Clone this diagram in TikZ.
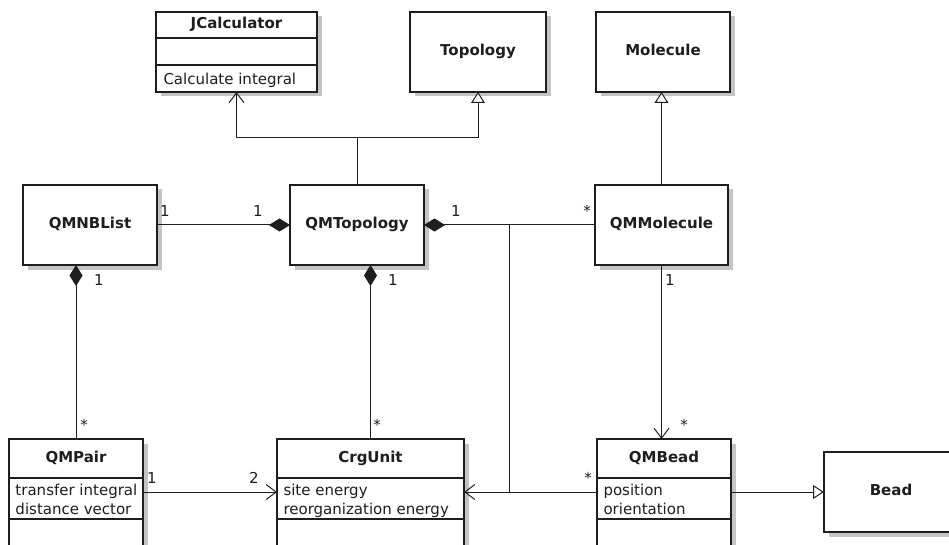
\documentclass[tikz,border=0pt]{standalone}
\usepackage{fontspec}
\setmainfont{DejaVu Sans}
\usetikzlibrary{arrows.meta,shadows}
\definecolor{ink}{HTML}{1E1E1E}
\definecolor{shade}{HTML}{C4C4C4}
\begin{document}
\begin{tikzpicture}[x=1pt,y=-1pt,
  line width=1pt, draw=ink,
  cls/.style={draw=ink, line width=1.2pt, fill=white, anchor=north west,
    inner sep=0pt, outer sep=0pt,
    general shadow={fill=shade, shadow xshift=4.5pt, shadow yshift=-4.5pt},
    font=\fontsize{15}{18}\selectfont\bfseries, text=ink,
    text height=0.73em, text depth=0pt},
  cname/.style={font=\fontsize{15}{18}\selectfont\bfseries, text=ink,
    inner sep=0pt, text height=0.73em, text depth=0pt},
  member/.style={font=\fontsize{15}{18}\selectfont, text=ink,
    inner sep=0pt, anchor=base west},
  mult/.style={font=\fontsize{15}{18}\selectfont, text=ink,
    inner sep=0pt, anchor=base},
  sep/.style={draw=ink, line width=1.2pt},
  nav/.style={draw=ink, -{Straight Barb[length=10pt,width=15pt,line width=1pt]}},
  gen/.style={draw=ink, -{Triangle[open,length=11pt,width=14pt,fill=white,line width=1pt]}},
  comp/.style={draw=ink, {Diamond[length=21pt,width=13pt]}-},
]
\useasboundingbox (0,0) rectangle (949,545);
\clip (0,0) rectangle (949,545);
\fill[white] (0,0) rectangle (949,545);

% ---- class boxes ----
\node[cls, minimum width=161pt, minimum height=80pt] (jcalc) at (156,12) {};
\node[cls, minimum width=136pt, minimum height=80pt] (topo)  at (410,12) {Topology};
\node[cls, minimum width=134pt, minimum height=80pt] (mol)   at (596,12) {Molecule};
\node[cls, minimum width=134pt, minimum height=80pt] (nbl)   at (23,185) {QMNBList};
\node[cls, minimum width=134pt, minimum height=80pt] (qmtop) at (290,185) {QMTopology};
\node[cls, minimum width=133pt, minimum height=80pt] (qmmol) at (595,185) {QMMolecule};
\node[cls, minimum width=134pt, minimum height=121pt] (qmpair) at (9,439) {};
\node[cls, minimum width=187pt, minimum height=121pt] (crg)    at (277,439) {};
\node[cls, minimum width=134pt, minimum height=121pt] (qmbead) at (597,439) {};
\node[cls, minimum width=134pt, minimum height=80pt] (bead)  at (824,452) {Bead};

% ---- compartments ----
\draw[sep] (jcalc.west |- 0,38) -- (jcalc.east |- 0,38);
\draw[sep] (jcalc.west |- 0,65) -- (jcalc.east |- 0,65);
\node[cname] (jcalc-name) at (236.5,25) {JCalculator};
\node[member] (jcalc-op) at (163,85) {Calculate integral};

\foreach \b in {qmpair,crg,qmbead}{
  \draw[sep] (\b.west |- 0,478) -- (\b.east |- 0,478);
  \draw[sep] (\b.west |- 0,519) -- (\b.east |- 0,519);
}
\node[cname] (qmpair-name) at (76,459) {QMPair};
\node[member] (qmpair-a1) at (15,495) {transfer integral};
\node[member] (qmpair-a2) at (15,514) {distance vector};
\node[cname] (crg-name) at (370.5,459) {CrgUnit};
\node[member] (crg-a1) at (283,495) {site energy};
\node[member] (crg-a2) at (283,514) {reorganization energy};
\node[cname] (qmbead-name) at (664,459) {QMBead};
\node[member] (qmbead-a1) at (603,495) {position};
\node[member] (qmbead-a2) at (603,514) {orientation};

% ---- connectors ----
\coordinate (jg) at (357,138);
\coordinate (ra) at (0,492);
\coordinate (jt) at (509,225);
\coordinate (jb) at (509,492);

\draw (qmtop.north) -- (qmtop.north |- jg);
\draw[nav] (qmtop.north |- jg) -| (jcalc.south);
\draw[gen] (qmtop.north |- jg) -| (topo.south);
\draw[gen] (qmmol.north) -- (qmmol.north |- mol.south);

\draw[comp] (qmtop.west) -- (nbl.east);
\draw[comp] (qmtop.east) -- (qmmol.west);
\draw (jt) -- (jb);

\draw[comp] (qmpair.north |- nbl.south) -- (qmpair.north);
\draw[comp] (crg.north |- qmtop.south) -- (crg.north);
\draw[nav] (qmmol.south) -- (qmmol.south |- qmbead.north);

\draw[nav] (qmpair.east |- ra) -- (crg.west |- ra);
\draw[nav] (qmbead.west |- ra) -- (crg.east |- ra);
\draw[gen] (qmbead.east |- ra) -- (bead.west |- ra);

% ---- multiplicities ----
\node[mult] (m1) at (165,217) {1};
\node[mult] (m2) at (258,217) {1};
\node[mult] (m3) at (456,217) {1};
\node[mult] (m4) at (587,217) {*};
\node[mult] (m5) at (99,285) {1};
\node[mult] (m6) at (393,285) {1};
\node[mult] (m7) at (670,285) {1};
\node[mult] (m8) at (84,430) {*};
\node[mult] (m9) at (377,430) {*};
\node[mult] (m10) at (684,430) {*};
\node[mult] (m11) at (152,483) {1};
\node[mult] (m12) at (254,483) {2};
\node[mult] (m13) at (588,483) {*};
\end{tikzpicture}
\end{document}
